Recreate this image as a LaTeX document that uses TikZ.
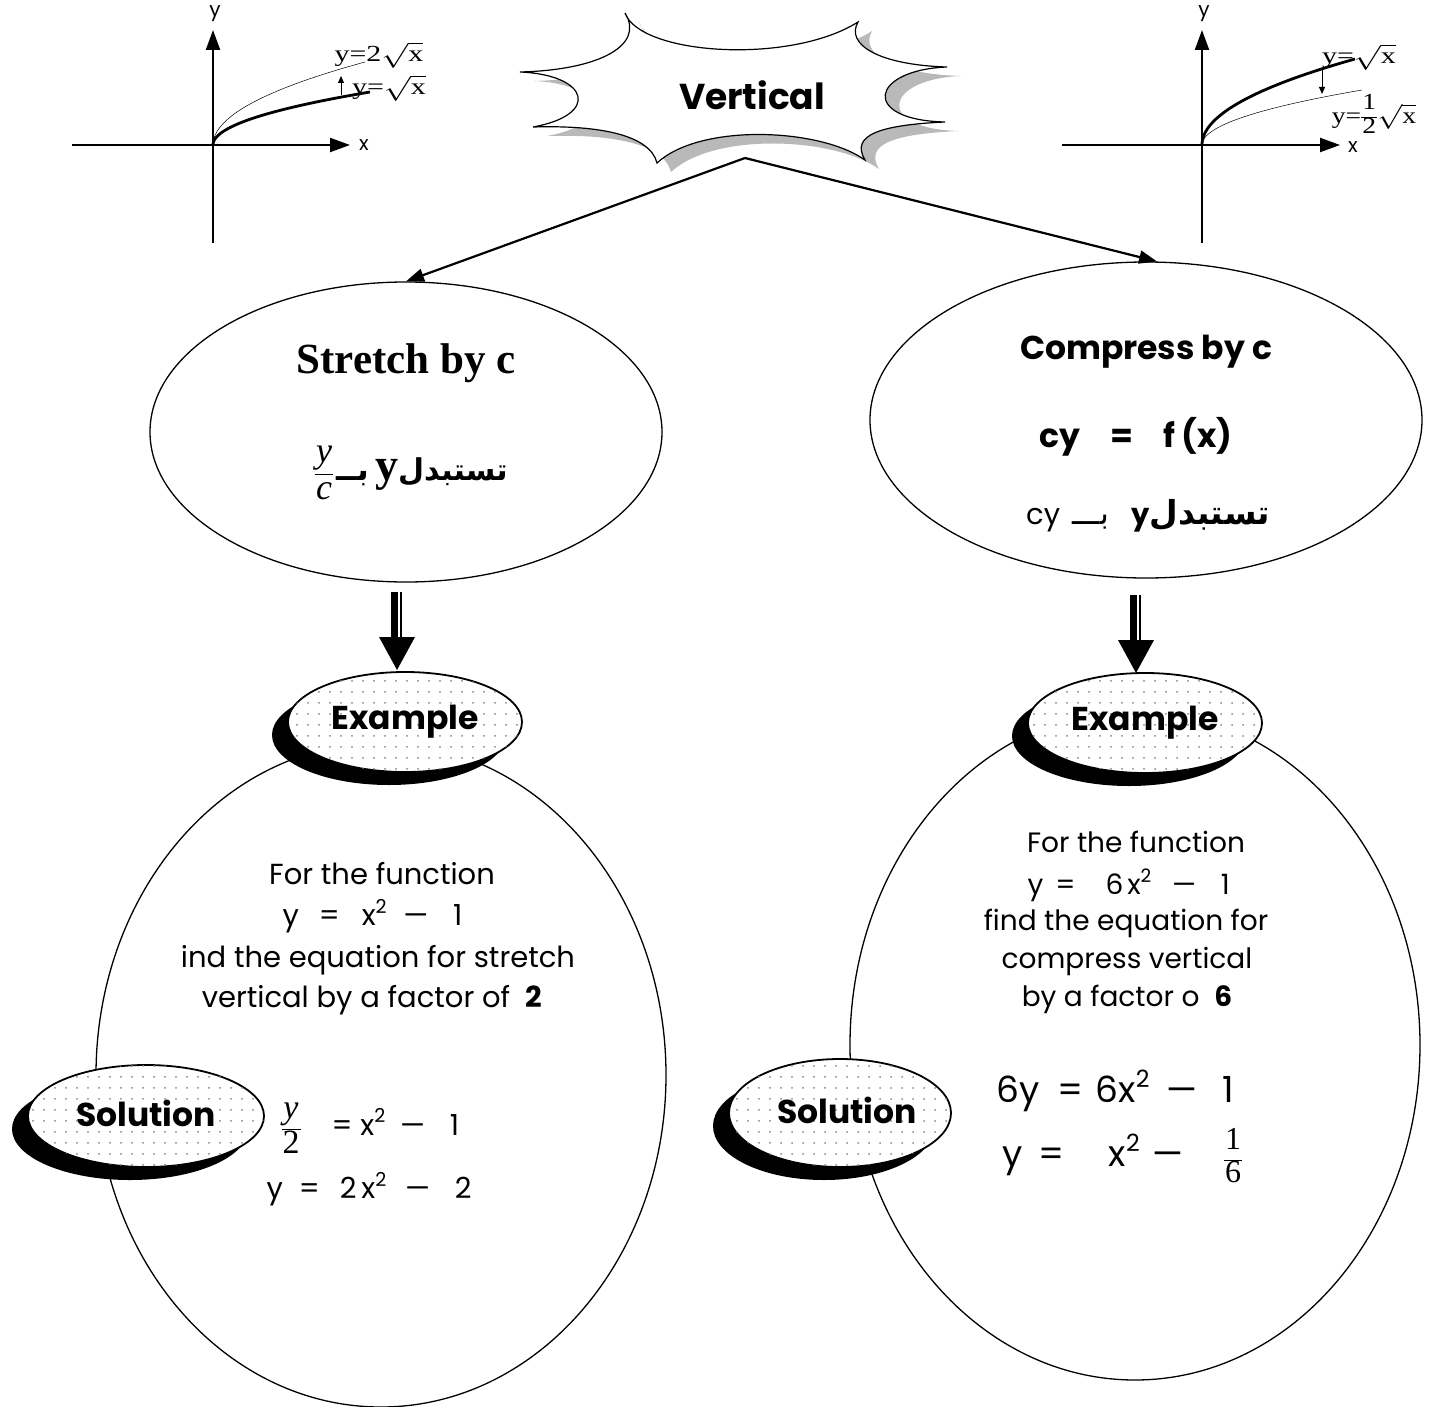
\documentclass[tikz,border=0pt]{standalone}
\usepackage{fontspec}
\usepackage{graphicx}
\setmainfont{Poppins}
\newfontfamily\serif{Liberation Serif}
\newfontfamily\arabicfont[Script=Arabic]{DejaVu Sans}
\TeXXeTstate=1
\usetikzlibrary{shapes.geometric,arrows.meta,patterns.meta,shadows}
\newcommand\vfrac[2]{\ensuremath{\vcenter{\hbox{\setlength\arrayrulewidth{0.9pt}\setlength\tabcolsep{1pt}\renewcommand\arraystretch{1.0}\begin{tabular}{c}#1\\\hline #2\end{tabular}}}}}
\newcommand\sq{\raisebox{0.42em}{\scalebox{0.66}{2}}}
\newcommand\mi{\scalebox{1.35}[1]{–}}
\begin{document}
\begin{tikzpicture}[x=1pt,y=-1pt,
  axisline/.style={line width=2.2pt,-{Triangle[length=20pt,width=14pt]}},
  thickcurve/.style={line width=2.8pt},
  thincurve/.style={line width=0.5pt},
  smallarrow/.style={line width=1pt,-{Triangle[length=7pt,width=6pt]}},
  eqlabel/.style={font=\serif\fontsize{23}{23}\selectfont},
  axlabel/.style={font=\fontsize{20}{20}\selectfont},
  connector/.style={line width=2.2pt,-{Triangle[length=18pt,width=13pt]}},
  bigoval/.style={draw,ellipse,line width=1.3pt,inner sep=0pt},
  blob/.style={draw,ellipse,line width=1.8pt,fill=white,inner sep=0pt,
    drop shadow={shadow xshift=-16pt,shadow yshift=-13pt,opacity=1,fill=black},
    postaction={pattern={Dots[radius=1pt,distance=11pt]},pattern color=gray!95}},
  blobtext/.style={font=\fontsize{33}{33}\selectfont\bfseries},
  body/.style={font=\fontsize{29}{32}\selectfont},
  bodyr/.style={font=\fontsize{28}{31}\selectfont},
  bigeq/.style={font=\fontsize{36}{36}\selectfont,anchor=west},
  burst/.style={line width=1.2pt}
]
\useasboundingbox (0,0) rectangle (1430,1407);

% ---------- left graph ----------
\draw[axisline] (72,145) -- (350,145);
\draw[axisline] (213,243) -- (213,30);
\node[axlabel] (lx) at (364,145) {x};
\node[axlabel] (ly) at (215,14) {y};
\draw[thincurve] plot[domain=0:1,samples=50] ({213+152*\x*\x},{145-83*\x});
\draw[thickcurve] plot[domain=0:1,samples=50] ({213+157*\x*\x},{145-53*\x});
\node[eqlabel] (l2) at (379,55) {\scalebox{1.3}[1]{y=2$\sqrt{\mbox{x}}$}};
\node[eqlabel] (l1) at (389,88) {\scalebox{1.3}[1]{y=$\sqrt{\mbox{x}}$}};
\draw[smallarrow] (341,95) -- (341,76);

% ---------- right graph ----------
\draw[axisline] (1062,145) -- (1340,145);
\draw[axisline] (1202,243) -- (1202,30);
\node[axlabel] (rx) at (1353,147) {x};
\node[axlabel] (ry) at (1204,14) {y};
\draw[thickcurve] plot[domain=0:1,samples=50] ({1202+153*\x*\x},{145-86*\x});
\draw[thincurve] plot[domain=0:1,samples=50] ({1202+160*\x*\x},{145-55*\x});
\node[eqlabel] (r1) at (1359,57) {\scalebox{1.3}[1]{y=$\sqrt{\mbox{x}}$}};
\node[eqlabel] (r2) at (1374,117) {\scalebox{1.2}[1]{y=\vfrac{1}{2}$\sqrt{\mbox{x}}$}};
\draw[smallarrow] (1322,69) -- (1322,94);

% ---------- starburst ----------
\def\burstpath{(625,13) .. controls (640,55) and (790,65) .. (858,22)
  .. controls (845,45) and (880,65) .. (947,67)
  .. controls (870,70) and (860,120) .. (945,122)
  .. controls (880,125) and (850,135) .. (865,160)
  .. controls (820,128) and (700,123) .. (657,163)
  .. controls (650,135) and (600,125) .. (533,127)
  .. controls (600,115) and (590,75) .. (520,72)
  .. controls (600,70) and (645,45) .. (625,13) -- cycle}
\fill[gray!55,shift={(14,9)}] \burstpath;
\filldraw[burst,fill=white] \burstpath;
\node[font=\fontsize{36}{36}\selectfont\bfseries] (vert) at (752,95) {Vertical};
\coordinate (apex) at (745,158);

% ---------- top ellipses ----------
\node[bigoval,minimum width=512pt,minimum height=300pt] (stretch) at (406,432) {};
\node[bigoval,minimum width=552pt,minimum height=316pt] (compress) at (1146,420) {};
\draw[connector] (apex) -- (stretch.north);
\draw[connector] (apex) -- (compress.86);

\node[font=\serif\fontsize{43}{43}\selectfont\bfseries] (st1) at (406,363) {Stretch by c};
\node[anchor=west,font=\serif\fontsize{36}{36}\selectfont,inner sep=0pt] (st2) at (315,474)
  {\vfrac{\itshape y}{\itshape c}\hspace{3pt}%
   {\arabicfont\bfseries\fontsize{31}{31}\selectfont\beginR بــ\endR}\hspace{6pt}%
   {\bfseries\fontsize{46}{46}\selectfont y}%
   {\arabicfont\bfseries\fontsize{30}{30}\selectfont\beginR تستبدل\endR}};

\node[font=\fontsize{33}{33}\selectfont\bfseries] (cp1) at (1146,352) {Compress by c};
\node[font=\fontsize{33}{33}\selectfont\bfseries] (cp2) at (1136,437)
  {cy\hspace{30pt}=\hspace{30pt}f\hspace{6pt}(x)};
\node[anchor=west,font=\fontsize{29}{29}\selectfont,inner sep=0pt] (cp3) at (1026,516)
  {cy\hspace{12pt}{\arabicfont\fontsize{32}{32}\selectfont\beginR بـــ\endR}\hspace{22pt}%
   {\bfseries y}{\arabicfont\bfseries\fontsize{33}{33}\selectfont\beginR تستبدل\endR}};

% ---------- double arrows ----------
\coordinate (dl) at (397,592);
\coordinate (dr) at (1136,595);
\foreach \c in {dl,dr}{
  \fill ([xshift=-6pt]\c) rectangle ([xshift=1pt,yshift=-45pt]\c);
  \fill ([xshift=3pt]\c) rectangle ([xshift=5pt,yshift=-45pt]\c);
  \fill ([xshift=-18pt,yshift=-45pt]\c) -- ([xshift=18pt,yshift=-45pt]\c)
        -- ([yshift=-78pt]\c) -- cycle;
}

% ---------- big lower ellipses ----------
\node[bigoval,minimum width=570pt,minimum height=664pt] (leftbig) at (381,1075) {};
\node[bigoval,minimum width=570pt,minimum height=670pt] (rightbig) at (1135,1045) {};

% ---------- Example / Solution blobs ----------
\node[blob,minimum width=234pt,minimum height=100pt] (exL) at (405,722) {};
\node[blobtext] (exLt) at (405,722) {Example};
\node[blob,minimum width=234pt,minimum height=100pt] (exR) at (1145,723) {};
\node[blobtext] (exRt) at (1145,723) {Example};
\node[blob,minimum width=236pt,minimum height=102pt] (soL) at (146,1116) {};
\node[blobtext] (soLt) at (146,1113) {Solution};
\node[blob,minimum width=222pt,minimum height=108pt] (soR) at (840,1113) {};
\node[blobtext] (soRt) at (847,1110) {Solution};

% ---------- left example text ----------
\node[body] (la1) at (382,874) {For the function};
\node[body,anchor=west] (la2) at (279,916)
  {y\hspace{20pt}=\hspace{22pt}x\sq\hspace{16pt}\mi\hspace{24pt}1};
\node[body] (la3) at (378,960) {ind the equation for stretch};
\node[body] (la4) at (372,1000) {vertical by a factor of \ \textbf{2}};
\node[font=\serif\fontsize{34}{34}\selectfont] (lf) at (291,1129) {\vfrac{\itshape y}{2}};
\node[body,anchor=west] (ls1) at (328,1122)
  {=\hspace{8pt}x\sq\hspace{14pt}\mi\hspace{24pt}1};
\node[body,anchor=west] (ls2) at (263,1189)
  {y\hspace{16pt}=\hspace{20pt}2\hspace{5pt}x\sq\hspace{18pt}\mi\hspace{24pt}2};

% ---------- right example text ----------
\node[bodyr] (ra1) at (1136,842) {For the function};
\node[bodyr,anchor=west] (ra2) at (1024,885)
  {y\hspace{12pt}=\hspace{30pt}6\hspace{4pt}x\sq\hspace{20pt}\mi\hspace{24pt}1};
\node[bodyr] (ra3) at (1126,923) {find the equation for};
\node[bodyr] (ra4) at (1127,961) {compress vertical};
\node[bodyr] (ra5) at (1127,999) {by a factor o \ \textbf{6}};
\node[bigeq] (rs1) at (993,1091)
  {6y\hspace{18pt}=\hspace{12pt}6x\sq\hspace{16pt}\mi\hspace{24pt}1};
\node[bigeq] (rs2) at (999,1155) {y\hspace{16pt}=\hspace{44pt}x\sq\hspace{12pt}\mi};
\node[font=\serif\fontsize{32}{32}\selectfont] (rf) at (1233,1160) {\vfrac{1}{6}};
\end{tikzpicture}
\end{document}
